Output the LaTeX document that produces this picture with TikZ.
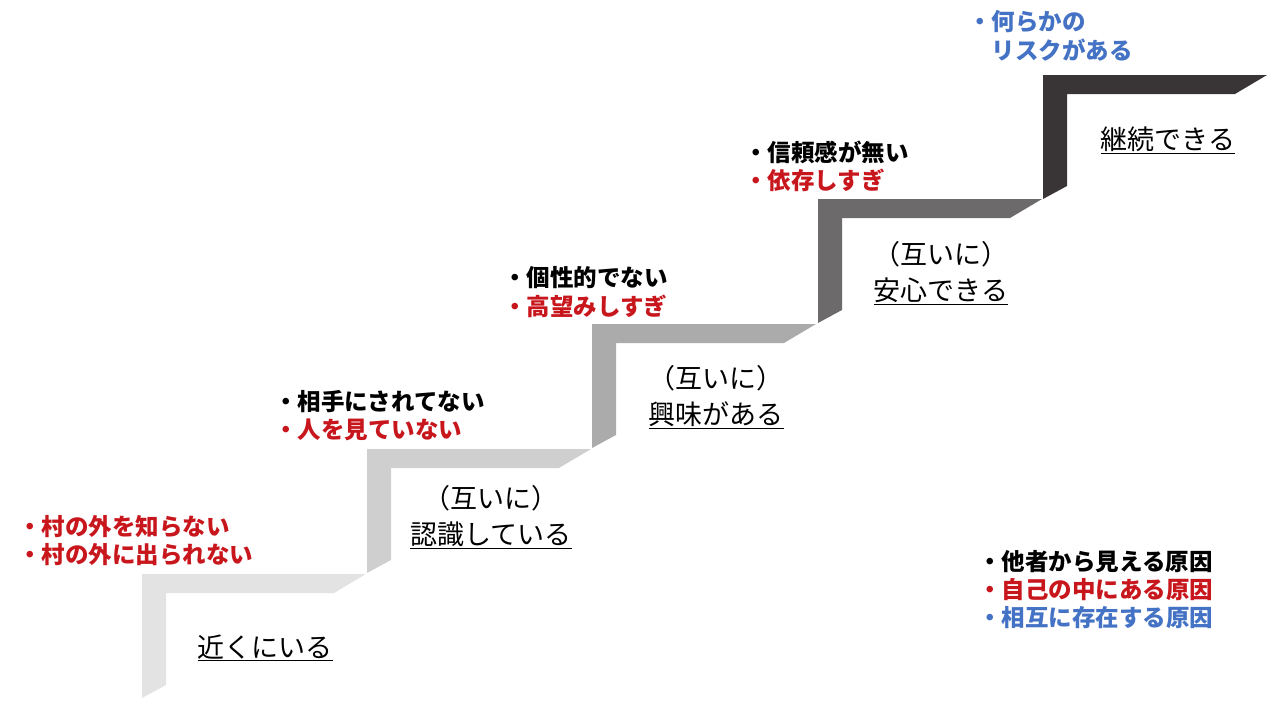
\documentclass[tikz,border=0pt]{standalone}
\usepackage{fontspec}
\setmainfont{Noto Sans CJK JP}
\definecolor{myred}{HTML}{C8161D}
\definecolor{myblue}{HTML}{4472C4}
\definecolor{st1}{HTML}{E3E3E3}
\definecolor{st2}{HTML}{CFCFCF}
\definecolor{st3}{HTML}{ABABAB}
\definecolor{st4}{HTML}{6D6A6B}
\definecolor{st5}{HTML}{393536}
\tikzset{
  bul/.style={anchor=west,inner sep=0pt,font=\fontsize{23.5}{28}\selectfont\bfseries},
  lab/.style={inner sep=0pt,align=center,font=\fontsize{27}{36}\selectfont},
}
\newcommand{\mystep}[3]{%
  \fill[#3] (#1,#2+124) -- (#1,#2) -- (#1+224,#2) -- (#1+192,#2+19) -- (#1+24,#2+19) -- (#1+24,#2+111) -- cycle;}
\newcommand{\ul}[1]{\underline{#1}}
\begin{document}
\begin{tikzpicture}[x=1pt,y=-1pt]
\useasboundingbox (0,0) rectangle (1280,707);
\mystep{142}{574}{st1}
\mystep{367}{449}{st2}
\mystep{592}{324}{st3}
\mystep{818}{199}{st4}
\mystep{1043}{75}{st5}
\node[bul,myred] (a1) at (18,527) {・村の外を知らない};
\node[bul,myred] (a2) at (18,555) {・村の外に出られない};
\node[bul] (b1) at (274,402) {・相手にされてない};
\node[bul,myred] (b2) at (274,430) {・人を見ていない};
\node[bul] (c1) at (503,278) {・個性的でない};
\node[bul,myred] (c2) at (503,306) {・高望みしすぎ};
\node[bul] (d1) at (744,152) {・信頼感が無い};
\node[bul,myred] (d2) at (744,180) {・依存しすぎ};
\node[bul,myblue] (e1) at (968,22) {・何らかの};
\node[bul,myblue] (e2) at (968,50) {\hspace*{23.5pt}リスクがある};
\node[bul] (l1) at (978,562) {・他者から見える原因};
\node[bul,myred] (l2) at (978,590) {・自己の中にある原因};
\node[bul,myblue] (l3) at (978,618) {・相互に存在する原因};
\node[lab] (s1) at (265,648) {\ul{近くにいる}};
\node[lab] (s2) at (491,517) {（互いに）\\\ul{認識している}};
\node[lab] (s3) at (716,397) {（互いに）\\\ul{興味がある}};
\node[lab] (s4) at (941,273) {（互いに）\\\ul{安心できる}};
\node[lab] (s5) at (1168,140) {\ul{継続できる}};
\end{tikzpicture}
\end{document}
